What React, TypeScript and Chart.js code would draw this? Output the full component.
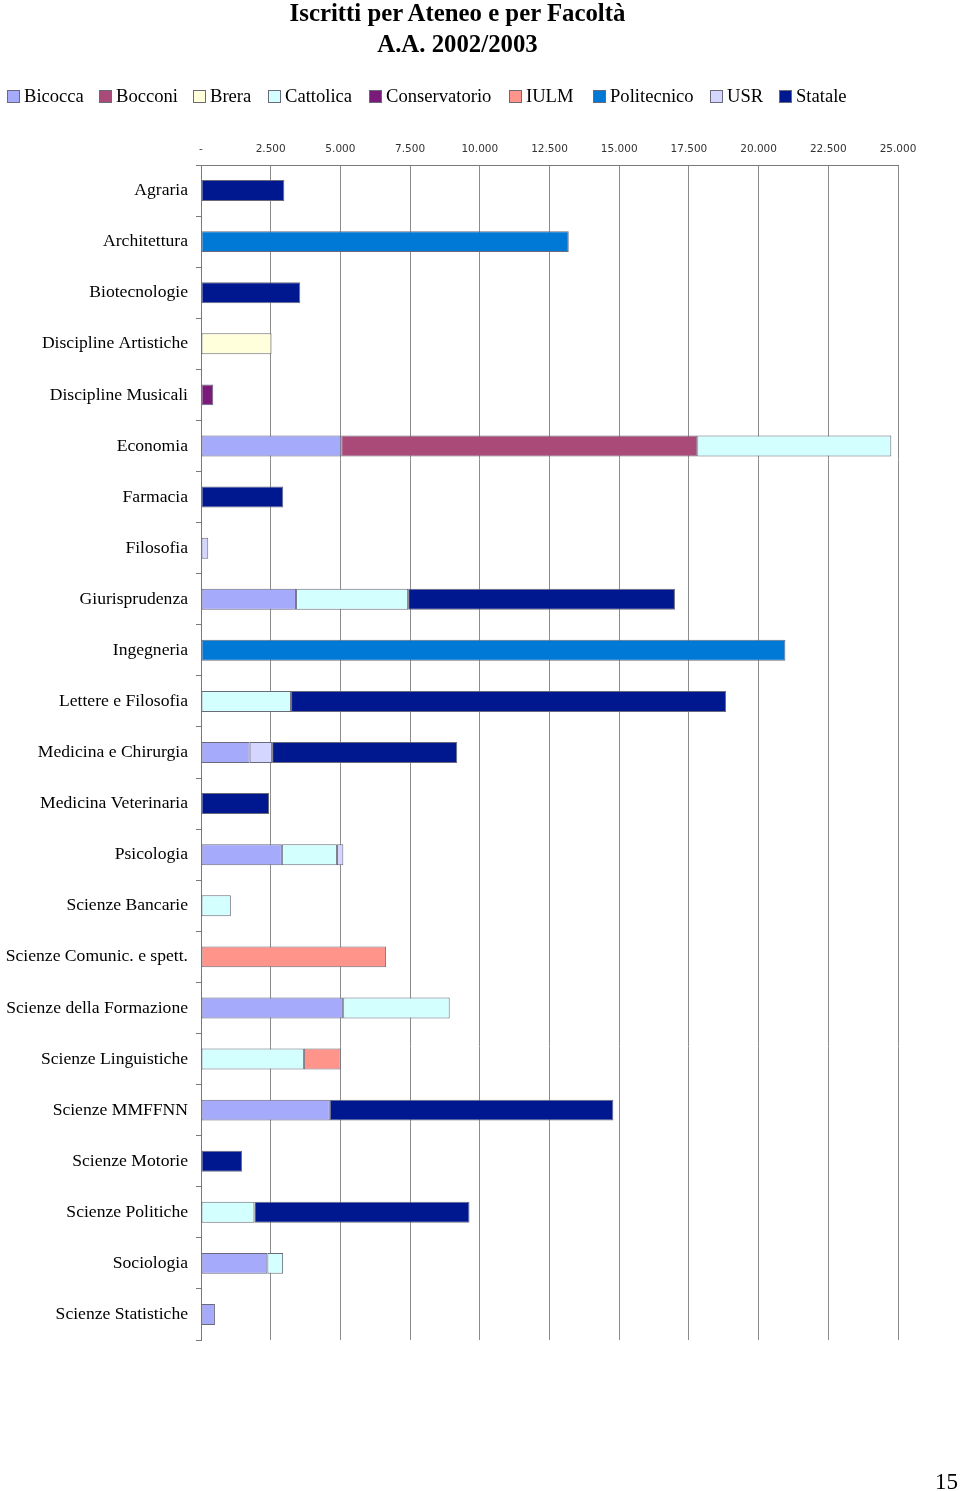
import React, { useEffect, useRef } from "react";
import { Chart, registerables } from "chart.js";

Chart.register(...registerables);

const categories = [
  "Agraria",
  "Architettura",
  "Biotecnologie",
  "Discipline Artistiche",
  "Discipline Musicali",
  "Economia",
  "Farmacia",
  "Filosofia",
  "Giurisprudenza",
  "Ingegneria",
  "Lettere e Filosofia",
  "Medicina e Chirurgia",
  "Medicina Veterinaria",
  "Psicologia",
  "Scienze Bancarie",
  "Scienze Comunic. e spett.",
  "Scienze della Formazione",
  "Scienze Linguistiche",
  "Scienze MMFFNN",
  "Scienze Motorie",
  "Scienze Politiche",
  "Sociologia",
  "Scienze Statistiche",
];

const bicocca = [0, 0, 0, 0, 0, 5030, 0, 0, 3410, 0, 0, 1745, 0, 2900, 0, 0, 5100, 0, 4620, 0, 0, 2380, 500];
const bocconi = [0, 0, 0, 0, 0, 12770, 0, 0, 0, 0, 0, 0, 0, 0, 0, 0, 0, 0, 0, 0, 0, 0, 0];
const brera = [0, 0, 0, 2530, 0, 0, 0, 0, 0, 0, 0, 0, 0, 0, 0, 0, 0, 0, 0, 0, 0, 0, 0];
const cattolica = [0, 0, 0, 0, 0, 6960, 0, 0, 4020, 0, 3230, 0, 0, 1975, 1070, 0, 3820, 3690, 0, 0, 1915, 565, 0];
const conservatorio = [0, 0, 0, 0, 440, 0, 0, 0, 0, 0, 0, 0, 0, 0, 0, 0, 0, 0, 0, 0, 0, 0, 0];
const iulm = [0, 0, 0, 0, 0, 0, 0, 0, 0, 0, 0, 0, 0, 0, 0, 6640, 0, 1320, 0, 0, 0, 0, 0];
const politecnico = [0, 13190, 0, 0, 0, 0, 0, 0, 0, 20960, 0, 0, 0, 0, 0, 0, 0, 0, 0, 0, 0, 0, 0];
const usr = [0, 0, 0, 0, 0, 0, 0, 260, 0, 0, 0, 805, 0, 230, 0, 0, 0, 0, 0, 0, 0, 0, 0];
const statale = [2990, 0, 3560, 0, 0, 0, 2950, 0, 9570, 0, 15600, 6640, 2440, 0, 0, 0, 0, 0, 10170, 1470, 7715, 0, 0];

const seriesNames = ["Bicocca", "Bocconi", "Brera", "Cattolica", "Conservatorio", "IULM", "Politecnico", "USR", "Statale"];
const seriesColors = ["#A6AAFA", "#A94A78", "#FFFFDC", "#D4FFFF", "#7A1A7A", "#FF958A", "#0079D6", "#D4D6FF", "#00188F"];
const seriesValues = [bicocca, bocconi, brera, cattolica, conservatorio, iulm, politecnico, usr, statale];

const xTickMax = 25000;
const xTickStep = 2500;

const title1 = "Iscritti per Ateneo e per Facoltà";
const title2 = "A.A. 2002/2003";
const pageNumber = "15";

function formatIt(v: number): string {
  if (v === 0) return "-";
  const s = Math.round(v).toString();
  return s.replace(/\B(?=(\d{3})+(?!\d))/g, ".");
}

const legendLeft = [7, 99, 193, 268, 369, 509, 593, 710, 779];

export default function App() {
  const canvasRef = useRef<HTMLCanvasElement | null>(null);

  useEffect(() => {
    document.body.style.margin = "0";
    const canvas = canvasRef.current;
    if (!canvas) return;
    const chart = new Chart(canvas, {
      type: "bar",
      data: {
        labels: categories,
        datasets: seriesNames.map((name, i) => ({
          label: name,
          data: seriesValues[i],
          backgroundColor: seriesColors[i],
          borderColor: "#6a6a7a",
          borderWidth: 1,
          borderSkipped: false,
          categoryPercentage: 1,
          barPercentage: 0.41,
        })),
      },
      options: {
        indexAxis: "y",
        animation: false,
        responsive: false,
        maintainAspectRatio: false,
        layout: { padding: { left: 0, right: 62, top: 120, bottom: 151 } },
        plugins: {
          legend: { display: false },
          title: { display: false },
          tooltip: { enabled: false },
        },
        scales: {
          x: {
            position: "top",
            stacked: true,
            min: 0,
            max: xTickMax,
            ticks: {
              stepSize: xTickStep,
              color: "#333",
              font: { family: "DejaVu Sans", size: 10.5 },
              padding: 9,
              maxRotation: 0,
              callback: (v: any) => formatIt(Number(v)),
            },
            grid: {
              color: "#8c8c8c",
              lineWidth: 1,
              drawTicks: false,
            },
            border: { display: true, color: "#7a7a7a", width: 1 },
            afterFit: (s: any) => {
              s.height = 45;
            },
          },
          y: {
            stacked: true,
            ticks: {
              color: "#000",
              font: { family: "Liberation Serif", size: 17.6 },
              padding: 8,
              autoSkip: false,
            },
            grid: {
              offset: true,
              drawOnChartArea: false,
              drawTicks: true,
              tickLength: 5,
              color: "#7a7a7a",
            },
            border: { display: true, color: "#7a7a7a", width: 1 },
            afterFit: (s: any) => {
              s.width = 201;
            },
          },
        },
      },
    });
    return () => chart.destroy();
  }, []);

  return (
    <div style={{ position: "absolute", left: 0, top: 0, width: 960, height: 1491, background: "#fff" }}>
      <canvas ref={canvasRef} width={960} height={1491} style={{ position: "absolute", left: 0, top: 0, width: 960, height: 1491 }} />
      <div
        style={{
          position: "absolute",
          left: 0,
          top: -3,
          width: 915,
          textAlign: "center",
          fontFamily: "Liberation Serif",
          fontWeight: "bold",
          fontSize: 24.8,
          lineHeight: "31px",
          color: "#000",
        }}
      >
        <div>{title1}</div>
        <div>{title2}</div>
      </div>
      {seriesNames.map((name, i) => (
        <div
          key={name}
          style={{
            position: "absolute",
            left: legendLeft[i],
            top: 85,
            height: 22,
            display: "flex",
            alignItems: "center",
            fontFamily: "Liberation Serif",
            fontSize: 18.6,
            color: "#000",
            whiteSpace: "nowrap",
          }}
        >
          <span
            style={{
              display: "inline-block",
              width: 11,
              height: 11,
              background: seriesColors[i],
              border: "1px solid #6a6a7a",
              marginRight: 4,
            }}
          />
          <span>{name}</span>
        </div>
      ))}
      <div
        style={{
          position: "absolute",
          left: 935,
          top: 1469,
          fontFamily: "Liberation Serif",
          fontSize: 23,
          color: "#000",
        }}
      >
        {pageNumber}
      </div>
    </div>
  );
}
